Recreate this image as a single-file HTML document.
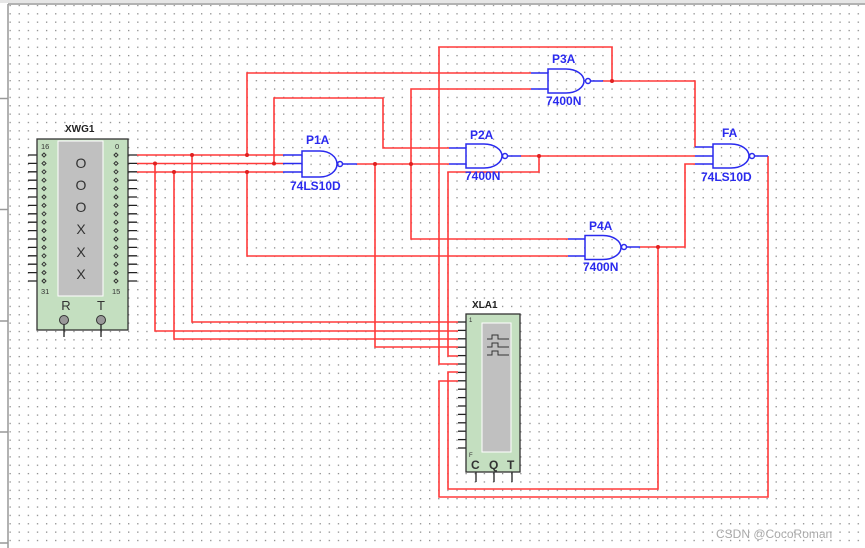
<!DOCTYPE html>
<html><head><meta charset="utf-8"><style>
html,body{margin:0;padding:0;background:#fff;width:865px;height:548px;overflow:hidden}
svg{display:block}
text{font-family:"Liberation Sans",sans-serif}
</style></head><body>
<svg width="865" height="548" viewBox="0 0 865 548" xmlns="http://www.w3.org/2000/svg">
<defs>
<pattern id="g" x="18.6" y="4.8" width="9.12" height="8.36" patternUnits="userSpaceOnUse">
<rect x="0" y="0" width="1.3" height="1.3" fill="#8a8a8a"/>
</pattern>
</defs>
<rect width="865" height="548" fill="#fff"/>
<rect x="9" y="5" width="856" height="543" fill="url(#g)"/>
<rect x="0" y="0" width="865" height="3" fill="#e6e6e6"/>
<line x1="8" y1="4" x2="865" y2="4" stroke="#999" stroke-width="1.5"/>
<line x1="8" y1="4" x2="8" y2="548" stroke="#999" stroke-width="1.5"/>
<g stroke="#999" stroke-width="1.5">
<line x1="0" y1="98.5" x2="8" y2="98.5"/><line x1="0" y1="209.5" x2="8" y2="209.5"/>
<line x1="0" y1="321" x2="8" y2="321"/><line x1="0" y1="432" x2="8" y2="432"/><line x1="0" y1="543" x2="8" y2="543"/>
</g>

<!-- WIRES -->
<g fill="none" stroke="#ff3a3a" stroke-width="1.6" stroke-linejoin="miter">
<polyline points="137,155 283,155"/>
<polyline points="192,155 192,322 458,322"/>
<polyline points="247,155 247,73 531,73"/>
<polyline points="137,163.5 283,163.5"/>
<polyline points="274,163.5 274,98 383,98 383,148 449,148"/>
<polyline points="155,163.5 155,331 458,331"/>
<polyline points="137,172 283,172"/>
<polyline points="174,172 174,339 458,339"/>
<polyline points="247,172 247,256 568,256"/>
<polyline points="357,164 449,164"/>
<polyline points="375,164 375,347 458,347"/>
<polyline points="411,164 411,89 531,89"/>
<polyline points="411,164 411,239 568,239"/>
<polyline points="521,156 695,156"/>
<polyline points="539,156 539,172 448,172 448,356 458,356"/>
<polyline points="603,81 695,81 695,147"/>
<polyline points="612,81 612,47 439,47 439,364 458,364"/>
<polyline points="640,247 685,247 685,164 695,164"/>
<polyline points="658,247 658,489 448,489 448,372 458,372"/>
<polyline points="768,156 768,497 439,497 439,381 458,381"/>
</g>
<g fill="#e02020">
<circle cx="192" cy="155" r="2"/><circle cx="247" cy="155" r="2"/>
<circle cx="155" cy="163.5" r="2"/><circle cx="274" cy="163.5" r="2"/>
<circle cx="174" cy="172" r="2"/><circle cx="247" cy="172" r="2"/>
<circle cx="375" cy="164" r="2"/><circle cx="411" cy="164" r="2"/>
<circle cx="539" cy="156" r="2"/><circle cx="612" cy="81" r="2"/><circle cx="658" cy="247" r="2"/>
</g>

<!-- GATES -->
<g fill="none" stroke="#2a2aee" stroke-width="1.5">
<line x1="283" y1="155" x2="302" y2="155"/><line x1="283" y1="163.5" x2="302" y2="163.5"/><line x1="283" y1="172" x2="302" y2="172"/>
<path d="M302 151 H320 A17 13 0 0 1 320 177 H302 Z"/>
<circle cx="340" cy="164" r="2.5"/><line x1="342.5" y1="164" x2="357" y2="164"/>
<line x1="449" y1="148" x2="466" y2="148"/><line x1="449" y1="164" x2="466" y2="164"/>
<path d="M466 144 H484 A18 12 0 0 1 484 168 H466 Z"/>
<circle cx="505" cy="156" r="2.5"/><line x1="507.5" y1="156" x2="521" y2="156"/>
<line x1="531" y1="73" x2="548" y2="73"/><line x1="531" y1="89" x2="548" y2="89"/>
<path d="M548 69 H566 A18 12 0 0 1 566 93 H548 Z"/>
<circle cx="588" cy="81" r="2.5"/><line x1="590.5" y1="81" x2="603" y2="81"/>
<line x1="568" y1="239" x2="585" y2="239"/><line x1="568" y1="256" x2="585" y2="256"/>
<path d="M585 235.5 H603 A18 12 0 0 1 603 259.5 H585 Z"/>
<circle cx="624" cy="247" r="2.5"/><line x1="626.5" y1="247" x2="640" y2="247"/>
<line x1="695" y1="147" x2="713" y2="147"/><line x1="695" y1="156" x2="713" y2="156"/><line x1="695" y1="164" x2="713" y2="164"/>
<path d="M713 144 H731 A18 12 0 0 1 731 168 H713 Z"/>
<circle cx="752" cy="156" r="2.5"/><line x1="754.5" y1="156" x2="768" y2="156"/>
</g>
<g fill="#2a2aee" font-weight="bold" font-size="12">
<text x="306" y="144">P1A</text><text x="290" y="190">74LS10D</text>
<text x="470" y="139">P2A</text><text x="465" y="180">7400N</text>
<text x="552" y="63">P3A</text><text x="546" y="105">7400N</text>
<text x="589" y="230">P4A</text><text x="583" y="271">7400N</text>
<text x="722" y="137">FA</text><text x="701" y="181">74LS10D</text>
</g>

<!-- XWG1 -->
<text x="65" y="132" font-size="10" font-weight="bold" fill="#222">XWG1</text>
<g stroke="#222" stroke-width="1.3">
<line x1="28" y1="155" x2="46" y2="155"/><line x1="28" y1="163.4" x2="46" y2="163.4"/><line x1="28" y1="171.8" x2="46" y2="171.8"/><line x1="28" y1="180.2" x2="46" y2="180.2"/>
<line x1="28" y1="188.6" x2="46" y2="188.6"/><line x1="28" y1="197" x2="46" y2="197"/><line x1="28" y1="205.4" x2="46" y2="205.4"/><line x1="28" y1="213.8" x2="46" y2="213.8"/>
<line x1="28" y1="222.2" x2="46" y2="222.2"/><line x1="28" y1="230.6" x2="46" y2="230.6"/><line x1="28" y1="239" x2="46" y2="239"/><line x1="28" y1="247.4" x2="46" y2="247.4"/>
<line x1="28" y1="255.8" x2="46" y2="255.8"/><line x1="28" y1="264.2" x2="46" y2="264.2"/><line x1="28" y1="272.6" x2="46" y2="272.6"/><line x1="28" y1="281" x2="46" y2="281"/>
<line x1="115" y1="155" x2="137" y2="155"/><line x1="115" y1="163.4" x2="137" y2="163.4"/><line x1="115" y1="171.8" x2="137" y2="171.8"/><line x1="115" y1="180.2" x2="137" y2="180.2"/>
<line x1="115" y1="188.6" x2="137" y2="188.6"/><line x1="115" y1="197" x2="137" y2="197"/><line x1="115" y1="205.4" x2="137" y2="205.4"/><line x1="115" y1="213.8" x2="137" y2="213.8"/>
<line x1="115" y1="222.2" x2="137" y2="222.2"/><line x1="115" y1="230.6" x2="137" y2="230.6"/><line x1="115" y1="239" x2="137" y2="239"/><line x1="115" y1="247.4" x2="137" y2="247.4"/>
<line x1="115" y1="255.8" x2="137" y2="255.8"/><line x1="115" y1="264.2" x2="137" y2="264.2"/><line x1="115" y1="272.6" x2="137" y2="272.6"/><line x1="115" y1="281" x2="137" y2="281"/>
</g>
<rect x="37" y="139" width="91" height="191" fill="#c4dfc0" stroke="#333" stroke-width="1.3"/>
<rect x="58" y="141" width="45" height="155" fill="#c0c0c0" stroke="#fff" stroke-width="1"/>
<g fill="none" stroke="#333" stroke-width="1">
<g transform="translate(46,0)">
<path d="M-4 155 l2-2 l2 2 l-2 2z M-4 163.4 l2-2 l2 2 l-2 2z M-4 171.8 l2-2 l2 2 l-2 2z M-4 180.2 l2-2 l2 2 l-2 2z M-4 188.6 l2-2 l2 2 l-2 2z M-4 197 l2-2 l2 2 l-2 2z M-4 205.4 l2-2 l2 2 l-2 2z M-4 213.8 l2-2 l2 2 l-2 2z M-4 222.2 l2-2 l2 2 l-2 2z M-4 230.6 l2-2 l2 2 l-2 2z M-4 239 l2-2 l2 2 l-2 2z M-4 247.4 l2-2 l2 2 l-2 2z M-4 255.8 l2-2 l2 2 l-2 2z M-4 264.2 l2-2 l2 2 l-2 2z M-4 272.6 l2-2 l2 2 l-2 2z M-4 281 l2-2 l2 2 l-2 2z"/>
</g>
<g transform="translate(118,0)">
<path d="M-4 155 l2-2 l2 2 l-2 2z M-4 163.4 l2-2 l2 2 l-2 2z M-4 171.8 l2-2 l2 2 l-2 2z M-4 180.2 l2-2 l2 2 l-2 2z M-4 188.6 l2-2 l2 2 l-2 2z M-4 197 l2-2 l2 2 l-2 2z M-4 205.4 l2-2 l2 2 l-2 2z M-4 213.8 l2-2 l2 2 l-2 2z M-4 222.2 l2-2 l2 2 l-2 2z M-4 230.6 l2-2 l2 2 l-2 2z M-4 239 l2-2 l2 2 l-2 2z M-4 247.4 l2-2 l2 2 l-2 2z M-4 255.8 l2-2 l2 2 l-2 2z M-4 264.2 l2-2 l2 2 l-2 2z M-4 272.6 l2-2 l2 2 l-2 2z M-4 281 l2-2 l2 2 l-2 2z"/>
</g>
</g>
<g font-size="7.5" fill="#333"><text x="41" y="149">16</text><text x="115" y="149">0</text><text x="41" y="294">31</text><text x="112" y="294">15</text></g>
<g font-size="14" fill="#333" text-anchor="middle">
<text x="81" y="168">O</text><text x="81" y="190">O</text><text x="81" y="212">O</text>
<text x="81" y="234">X</text><text x="81" y="257">X</text><text x="81" y="279">X</text>
<text x="66" y="310" font-size="13">R</text><text x="101" y="310" font-size="13">T</text>
</g>
<g stroke="#222" stroke-width="1.3"><line x1="64" y1="321" x2="64" y2="337"/><line x1="101" y1="321" x2="101" y2="337"/></g>
<circle cx="64" cy="320" r="4.5" fill="#999" stroke="#333"/><circle cx="101" cy="320" r="4.5" fill="#999" stroke="#333"/>

<!-- XLA1 -->
<text x="472" y="308" font-size="10" font-weight="bold" fill="#222">XLA1</text>
<g stroke="#222" stroke-width="1.3">
<line x1="458" y1="322" x2="466" y2="322"/><line x1="458" y1="330.4" x2="466" y2="330.4"/><line x1="458" y1="338.8" x2="466" y2="338.8"/><line x1="458" y1="347.2" x2="466" y2="347.2"/>
<line x1="458" y1="355.6" x2="466" y2="355.6"/><line x1="458" y1="364" x2="466" y2="364"/><line x1="458" y1="372.4" x2="466" y2="372.4"/><line x1="458" y1="380.8" x2="466" y2="380.8"/>
<line x1="458" y1="389.2" x2="466" y2="389.2"/><line x1="458" y1="397.6" x2="466" y2="397.6"/><line x1="458" y1="406" x2="466" y2="406"/><line x1="458" y1="414.4" x2="466" y2="414.4"/>
<line x1="458" y1="422.8" x2="466" y2="422.8"/><line x1="458" y1="431.2" x2="466" y2="431.2"/><line x1="458" y1="439.6" x2="466" y2="439.6"/><line x1="458" y1="448" x2="466" y2="448"/>
<line x1="476" y1="472" x2="476" y2="482"/><line x1="494" y1="472" x2="494" y2="482"/><line x1="512" y1="472" x2="512" y2="482"/>
</g>
<rect x="466" y="314" width="54" height="158" fill="#c4dfc0" stroke="#333" stroke-width="1.3"/>
<rect x="482" y="323" width="29" height="129" fill="#c0c0c0" stroke="#fff" stroke-width="1"/>
<g fill="none" stroke="#333" stroke-width="1">
<path d="M487 339 h5 v-4 h6 v4 h11"/><path d="M487 347 h5 v-4 h6 v4 h11"/><path d="M487 355 h5 v-4 h6 v4 h11"/>
</g>
<g fill="#333"><text x="469" y="322" font-size="6">1</text><text x="469" y="457" font-size="6">F</text>
<text x="471" y="469" font-size="12" font-weight="bold">C</text><text x="489" y="469" font-size="12" font-weight="bold">Q</text><text x="507" y="469" font-size="12" font-weight="bold">T</text></g>

<text x="716" y="538" font-size="12" fill="#aaa">CSDN @CocoRoman</text>
</svg>
</body></html>
